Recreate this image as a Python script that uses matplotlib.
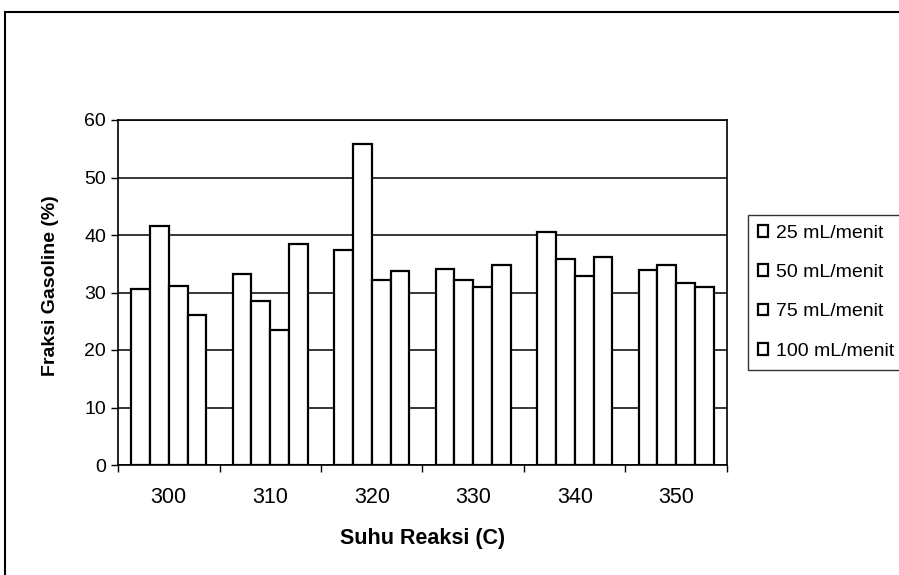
import matplotlib.pyplot as plt
import matplotlib.patches as mpatches
import numpy as np

plt.rcParams['font.family'] = ['Liberation Sans', 'DejaVu Sans']

# data
suhu = ['300', '310', '320', '330', '340', '350']
laju = ['25 mL/menit', '50 mL/menit', '75 mL/menit', '100 mL/menit']
f25 = [30.6, 33.3, 37.4, 34.1, 40.5, 33.9]
f50 = [41.5, 28.5, 55.9, 32.1, 35.9, 34.8]
f75 = [31.2, 23.5, 32.1, 30.9, 32.9, 31.6]
f100 = [26.1, 38.5, 33.7, 34.8, 36.2, 31.0]
series = [f25, f50, f75, f100]

fig = plt.figure(figsize=(8.99, 5.75), dpi=100)
ax = fig.add_axes([118/899, 1 - 465/575, (727-118)/899, 345/575])

x = np.arange(len(suhu))
w = 0.185
for i, vals in enumerate(series):
    ax.bar(x + (i - 1.5) * w, vals, w, color='white', edgecolor='black',
           linewidth=1.6, label=laju[i], zorder=3)

ax.set_xlim(-0.5, len(suhu) - 0.5)
ax.set_ylim(0, 60)
ax.set_yticks(range(0, 61, 10))
ax.set_xticks(x)
ax.set_xticklabels(suhu)
ax.set_xticks(np.arange(-0.5, len(suhu), 1), minor=True)
ax.tick_params(axis='x', which='major', length=0, pad=16, labelsize=15.5)
ax.tick_params(axis='x', which='minor', length=5, width=1, direction='out')
ax.tick_params(axis='y', length=5, width=1, labelsize=14)
ax.yaxis.grid(True, color='black', linewidth=1.1, zorder=0)
for s in ax.spines.values():
    s.set_linewidth(1.2)

ax.set_xlabel('Suhu Reaksi (C)', fontsize=15.5, fontweight='bold', labelpad=14)
ax.set_ylabel('Fraksi Gasoline (%)', fontsize=14, fontweight='bold')
ax.yaxis.set_label_coords(-(118 - 59) / 609, 0.52)

leg = ax.legend(loc='upper left', bbox_to_anchor=(748/899, 1 - 215/575),
                bbox_transform=fig.transFigure, fontsize=14, frameon=True,
                fancybox=False, edgecolor='black', handlelength=0.55,
                handleheight=0.55, handletextpad=0.4, labelspacing=1.15,
                borderpad=0.5, borderaxespad=0)
leg.get_frame().set_linewidth(1.0)

# outer chart border (right and bottom edges fall outside the picture)
fig.patches.append(mpatches.Rectangle((5/899, -0.1), 1.2, 1.1 - 12/575, transform=fig.transFigure,
                                      fill=False, edgecolor='black', linewidth=1.5))

fig.savefig('out.png', dpi=100)
